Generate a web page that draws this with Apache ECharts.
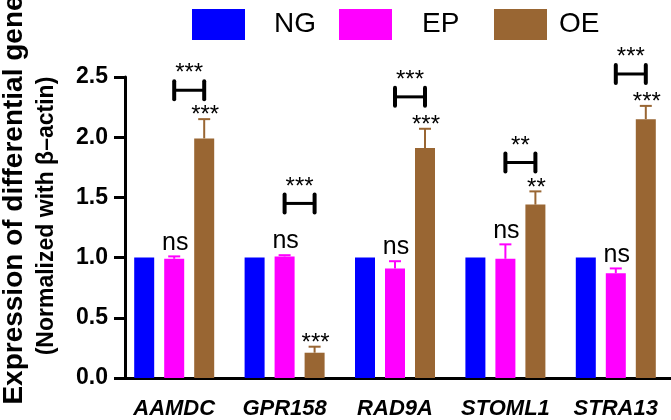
<!DOCTYPE html>
<html>
<head>
<meta charset="utf-8">
<script src="https://cdn.jsdelivr.net/npm/echarts@6/dist/echarts.min.js"></script>
<style>
	html, body { margin: 0; padding: 0; background: #fff; }
	#main { width: 671px; height: 420px; }
</style>
</head>
<body>
<div id="main"></div>
<script>
	// data
	const genes = ['AAMDC', 'GPR158', 'RAD9A', 'STOML1', 'STRA13'];
	const ngValues = [1, 1, 1, 1, 1];
	const epValues = [0.99, 1.01, 0.91, 0.99, 0.87];
	const epErrors = [0.02, 0.01, 0.06, 0.12, 0.04];
	const oeValues = [1.99, 0.21, 1.91, 1.44, 2.15];
	const oeErrors = [0.16, 0.05, 0.16, 0.11, 0.11];
	const epMarks = ['ns', 'ns', 'ns', 'ns', 'ns'];
	const oeMarks = ['***', '***', '***', '**', '***'];
	// EP vs OE brackets
	const bracketLevels = [2.39, 1.45, 2.335, 1.79, 2.525];
	const bracketMarks = ['***', '***', '***', '**', '***'];
	const yTicks = [0, 0.5, 1.0, 1.5, 2.0, 2.5];

	const FONT = '"Liberation Sans", Arial, sans-serif';
	const BAR_W = 20;
	const BAR_STEP = 30; // bar width + gap

	//error bar (upper only) + significance text
	function errorBar(offset, color, marks) {
		return function (params, api) {
			let i = api.value(0);
			let v = api.value(1);
			let base = api.coord([i, v]);
			let top = api.coord([i, v + api.value(2)]);
			let x = base[0] + offset;
			let mark = marks[params.dataIndex];
			let isNs = mark === 'ns';
			return {
				type: 'group',
				children: [
					{ type: 'line', shape: { x1: x, y1: base[1], x2: x, y2: top[1] }, style: { stroke: color, lineWidth: 2 } },
					{ type: 'line', shape: { x1: x - 6, y1: top[1], x2: x + 6, y2: top[1] }, style: { stroke: color, lineWidth: 2 } },
					{
						type: 'text',
						x: x + 1,
						y: isNs ? top[1] - 13.7 : top[1] - 3.4,
						style: { text: mark, fill: '#000', font: (isNs ? '25px ' : '24px ') + FONT, align: 'center', verticalAlign: 'middle' }
					}
				]
			};
		};
	}

	function bracket(params, api) {
		let c = api.coord([api.value(0), api.value(1)]);
		let x1 = c[0], x2 = c[0] + BAR_STEP, y = c[1];
		return {
			type: 'group',
			children: [
				{ type: 'line', shape: { x1: x1, y1: y, x2: x2, y2: y }, style: { stroke: '#000', lineWidth: 3 } },
				{ type: 'line', shape: { x1: x1, y1: y - 9, x2: x1, y2: y + 9 }, style: { stroke: '#000', lineWidth: 4, lineCap: 'round' } },
				{ type: 'line', shape: { x1: x2, y1: y - 9, x2: x2, y2: y + 9 }, style: { stroke: '#000', lineWidth: 4, lineCap: 'round' } },
				{
					type: 'text', x: (x1 + x2) / 2, y: y - 16.5,
					style: { text: bracketMarks[params.dataIndex], fill: '#000', font: '24px ' + FONT, align: 'center', verticalAlign: 'middle' }
				}
			]
		};
	}

	function legendItem(name, left, pad) {
		return {
			data: [name], left: left, top: 4, icon: 'rect',
			itemWidth: 53, itemHeight: 31,
			textStyle: { fontSize: 28, color: '#000', fontFamily: FONT, padding: [0, 0, 0, pad] }
		};
	}

	let chart = echarts.init(document.getElementById('main'));
	chart.setOption({
		animation: false,
		textStyle: { fontFamily: FONT },
		legend: [
			legendItem('NG', 187, 24),
			legendItem('EP', 334, 25),
			legendItem('OE', 489, 7)
		],
		grid: { left: 119, top: 77, width: 555, height: 301 },
		xAxis: {
			type: 'category',
			data: genes,
			axisLine: { lineStyle: { color: '#000', width: 3 } },
			axisTick: { alignWithLabel: true, length: 12, lineStyle: { color: '#000', width: 3 } },
			axisLabel: { interval: 0, color: '#000', fontSize: 22, fontWeight: 'bold', fontStyle: 'italic', margin: 20 }
		},
		yAxis: {
			type: 'value',
			offset: -6,
			min: yTicks[0],
			max: yTicks[yTicks.length - 1],
			interval: yTicks[1] - yTicks[0],
			splitLine: { show: false },
			axisLine: { show: true, lineStyle: { color: '#000', width: 3 } },
			axisTick: { show: true, length: 11, lineStyle: { color: '#000', width: 3 } },
			axisLabel: { color: '#000', fontSize: 23, fontWeight: 'bold', margin: 17, formatter: v => v.toFixed(1) }
		},
		graphic: [
			{
				type: 'text', x: 14, y: 200, rotation: Math.PI / 2,
				style: { text: 'Expression of differential gene', fill: '#000', font: 'bold 28px ' + FONT, align: 'center', verticalAlign: 'middle' }
			},
			{
				type: 'text', x: 47, y: 216, rotation: Math.PI / 2,
				style: { text: '(Normalized with β–actin)', fill: '#000', font: 'bold 23px ' + FONT, align: 'center', verticalAlign: 'middle' }
			}
		],
		series: [
			{ name: 'NG', type: 'bar', barWidth: BAR_W, barGap: '50%', itemStyle: { color: '#0000ff' }, data: ngValues },
			{ name: 'EP', type: 'bar', barWidth: BAR_W, barGap: '50%', itemStyle: { color: '#ff00ff' }, data: epValues },
			{ name: 'OE', type: 'bar', barWidth: BAR_W, barGap: '50%', itemStyle: { color: '#996633' }, data: oeValues },
			{
				type: 'custom', z: 3, clip: false,
				renderItem: errorBar(0, '#ff00ff', epMarks),
				encode: { x: 0, y: 1 },
				data: epValues.map((v, i) => [i, v, epErrors[i]])
			},
			{
				type: 'custom', z: 3, clip: false,
				renderItem: errorBar(BAR_STEP, '#996633', oeMarks),
				encode: { x: 0, y: 1 },
				data: oeValues.map((v, i) => [i, v, oeErrors[i]])
			},
			{
				type: 'custom', z: 3, clip: false,
				renderItem: bracket,
				encode: { x: 0, y: 1 },
				data: bracketLevels.map((v, i) => [i, v])
			}
		]
	});
</script>
</body>
</html>
